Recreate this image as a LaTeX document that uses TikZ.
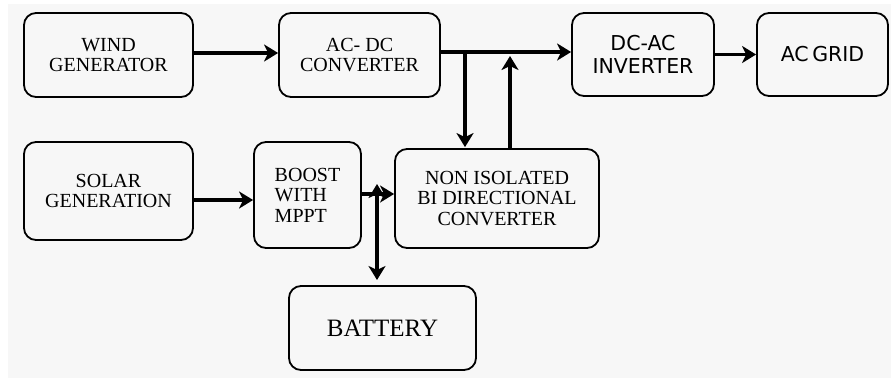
\documentclass[tikz,border=0pt]{standalone}
\usepackage{fontspec}
\setmainfont{Liberation Serif}
\newfontfamily\sansf{DejaVu Sans}
\usetikzlibrary{arrows.meta}
\definecolor{bggray}{HTML}{F7F7F7}
\tikzset{
  blk/.style={draw=black, line width=1.8pt, rounded corners=12pt, fill=bggray, align=center,
    inner sep=0pt, font=\fontsize{20}{20.5}\selectfont},
  sblk/.style={blk, font=\sansf\fontsize{20.5}{23}\selectfont},
  tip/.tip={Stealth[length=14pt,width=17pt,inset=4pt]},
  arr/.style={line width=3.5pt, -tip},
  darr/.style={line width=3.5pt, tip-tip}
}
\begin{document}
\begin{tikzpicture}[x=1pt,y=-1pt]
\useasboundingbox (0,0) rectangle (891,378);
\fill[bggray] (8,4) rectangle (891,378);

\node[blk, minimum width=169pt, minimum height=84pt] (wind) at (108.5,55) {WIND\\GENERATOR};
\node[blk, minimum width=161pt, minimum height=84pt] (acdc) at (359.5,55) {AC- DC\\CONVERTER};
\node[sblk, minimum width=142pt, minimum height=83pt] (inv) at (643,54.5) {DC-AC\\INVERTER};
\node[sblk, minimum width=131pt, minimum height=83pt] (grid) at (822.5,54.5) {AC\hspace{-3pt} GRID};
\node[blk, minimum width=169pt, minimum height=98pt] (solar) at (108.5,191) {SOLAR\\GENERATION};
\node[blk, minimum width=107pt, minimum height=106pt, align=left] (boost) at (307.5,195) {BOOST\\WITH\\MPPT};
\node[blk, minimum width=204pt, minimum height=99pt] (bidir) at (497,198.5) {NON ISOLATED\\BI DIRECTIONAL\\CONVERTER};
\node[blk, minimum width=187pt, minimum height=84pt, font=\fontsize{25}{27}\selectfont] (batt) at (382.5,328) {BATTERY};

\coordinate (j1) at (465,52);
\coordinate (j2) at (510,52);
\coordinate (j2t) at (510,56);
\coordinate (j3) at (377,184);
\coordinate (jb) at (377,280);

\draw[arr] ([yshift=2pt]wind.east) -- ([yshift=2pt]acdc.west);
\draw[arr] ([yshift=3pt]acdc.east) -- ([yshift=2.5pt]inv.west);
\draw[arr] (inv.east) -- (grid.west);
\draw[arr] (j1) -- ([yshift=1pt]j1 |- bidir.north);
\draw[arr] (j2 |- bidir.north) -- (j2t);
\draw[arr] ([yshift=-9pt]solar.east) -- ([yshift=-5pt]boost.west);
\draw[arr] ([yshift=1pt]boost.east) -- ([yshift=4.5pt]bidir.west);
\draw[darr] (j3) -- (jb);
\end{tikzpicture}
\end{document}
